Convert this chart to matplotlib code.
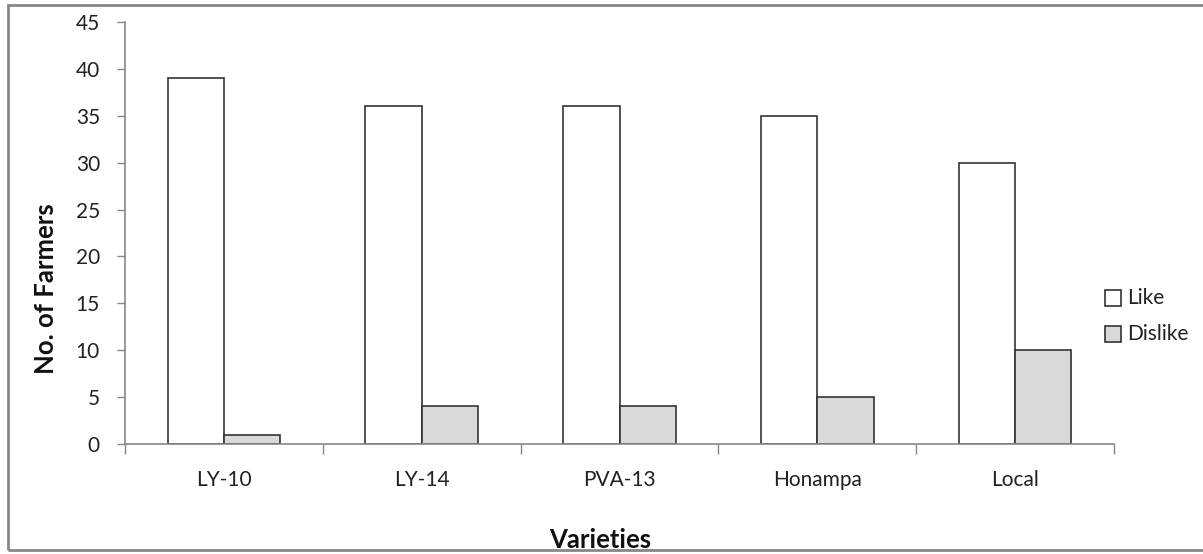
import matplotlib
matplotlib.use("Agg")
import matplotlib.pyplot as plt
from matplotlib.patches import Rectangle
import numpy as np

categories = ["LY-10", "LY-14", "PVA-13", "Honampa", "Local"]
like = [39, 36, 36, 35, 30]
dislike = [1, 4, 4, 5, 10]
yticks = [0, 5, 10, 15, 20, 25, 30, 35, 40, 45]
series_names = ["Like", "Dislike"]

plt.rcParams['font.family'] = ['Lato', 'DejaVu Sans']

W, H = 1203, 554
fig = plt.figure(figsize=(W/100, H/100), dpi=100)
ax = fig.add_axes([125/W, 1-444/H, (1114-125)/W, (444-22)/H])

x = np.arange(len(categories))
bw = 0.285
colors = ['white', '#d9d9d9']
ax.bar(x - bw/2, like, bw, color=colors[0], edgecolor='#333333', linewidth=1.2)
ax.bar(x + bw/2, dislike, bw, color=colors[1], edgecolor='#333333', linewidth=1.2)

ax.set_xlim(-0.5, len(categories) - 0.5)
ax.set_ylim(0, 45)
ax.set_yticks(yticks)
ax.set_yticklabels([str(v) for v in yticks], fontsize=15, color='#222222')
ax.set_xticks(x)
ax.set_xticklabels(categories, fontsize=15, color='#222222')
ax.tick_params(axis='x', length=0, pad=19)
ax.set_xticks(np.arange(len(categories) + 1) - 0.5, minor=True)
ax.tick_params(axis='x', which='minor', length=7, color='#888888', width=1)
ax.tick_params(axis='y', length=6, color='#888888', width=1, pad=12)
for s in ['top', 'right']:
    ax.spines[s].set_visible(False)
for s in ['left', 'bottom']:
    ax.spines[s].set_color('#888888')
    ax.spines[s].set_linewidth(1.2)

fig.text(46/W, 1-289/H, "No. of Farmers", rotation=90, ha='center', va='center',
         fontsize=18.5, fontweight='bold', color='#111111')
fig.text(600/W, 1-548/H, "Varieties", ha='center', va='baseline',
         fontsize=18.5, fontweight='bold', color='#111111')

# legend (drawn as figure artists at Excel-like positions)
for i, (name, col) in enumerate(zip(series_names, colors)):
    yc = 298 + i * 36
    sq = Rectangle((1105/W, 1-(yc+8)/H), 16/W, 16/H, transform=fig.transFigure,
                   facecolor=col, edgecolor='#333333', linewidth=1.2)
    fig.patches.append(sq)
    fig.text(1127/W, 1-yc/H, name, ha='left', va='center', fontsize=15, color='#222222')

border = Rectangle((8/W, 1-550/H), (W+10-8)/W, (550-5)/H, transform=fig.transFigure,
                   fill=False, edgecolor='#888888', linewidth=2, clip_on=False)
fig.patches.append(border)

fig.savefig("out.png", dpi=100)
